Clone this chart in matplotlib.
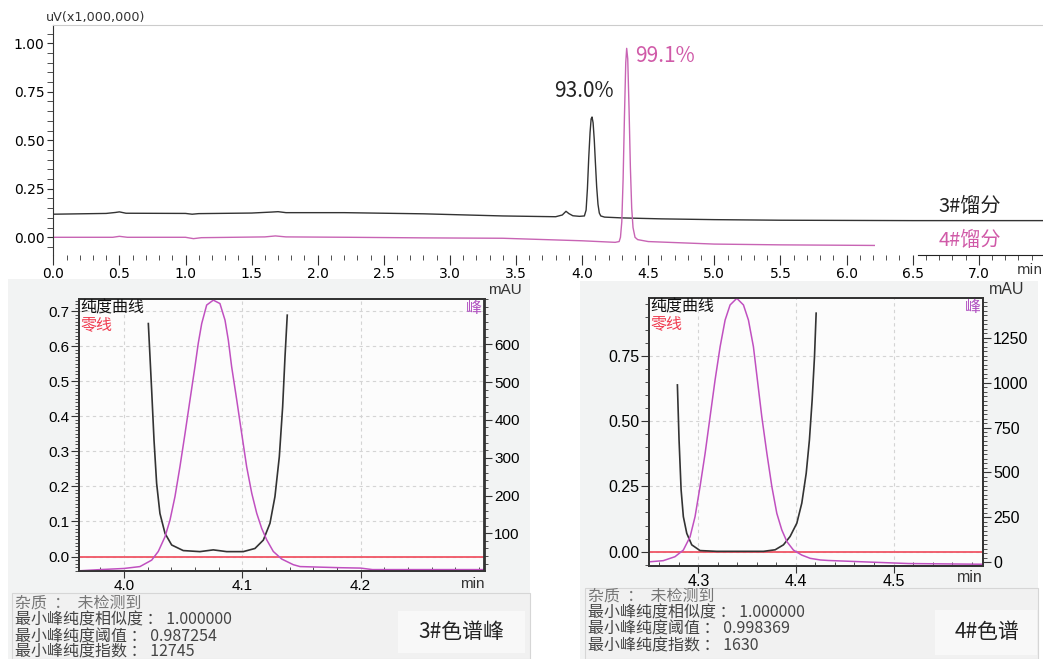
import matplotlib
matplotlib.use('Agg')
import matplotlib.pyplot as plt
from matplotlib.ticker import MultipleLocator, FixedLocator, FormatStrFormatter
from matplotlib.patches import Rectangle

plt.rcParams['font.family'] = ['DejaVu Sans', 'Noto Sans CJK SC']
CJK = ['Noto Sans CJK SC', 'DejaVu Sans']
ARIAL = ['Liberation Sans', 'Noto Sans CJK SC']

# ---- top chromatogram (min, uV x1e6)
t3 = [0.00, 0.40, 0.47, 0.50, 0.55, 1.00, 1.05, 1.10, 1.50, 1.65, 1.70, 1.76, 2.20, 2.80,
      3.40, 3.70, 3.80, 3.85, 3.878, 3.90, 3.93, 3.98, 4.017, 4.03, 4.04, 4.05, 4.06, 4.068,
      4.075, 4.083, 4.092, 4.10, 4.11, 4.12, 4.13, 4.141, 4.17, 4.30, 4.60, 5.00, 5.50, 6.50, 7.49]
y3 = [0.119, 0.123, 0.128, 0.131, 0.124, 0.123, 0.119, 0.122, 0.125, 0.130, 0.132, 0.127, 0.127, 0.121,
      0.110, 0.107, 0.106, 0.115, 0.134, 0.122, 0.111, 0.108, 0.110, 0.14, 0.25, 0.41, 0.54, 0.61,
      0.62, 0.59, 0.50, 0.39, 0.26, 0.17, 0.125, 0.110, 0.104, 0.100, 0.095, 0.091, 0.088, 0.086, 0.086]

t4 = [0.00, 0.45, 0.50, 0.56, 1.00, 1.06, 1.12, 1.60, 1.68, 1.76, 2.24, 2.80, 3.40, 4.00, 4.25,
      4.28, 4.29, 4.30, 4.31, 4.32, 4.33, 4.337, 4.345, 4.355, 4.365, 4.375, 4.385, 4.40, 4.42,
      4.50, 5.00, 5.50, 6.21]
y4 = [0.000, 0.000, 0.005, 0.000, 0.000, -0.007, -0.002, 0.002, 0.007, 0.002, 0.000, -0.003, -0.005, -0.018, -0.026,
      -0.022, 0.0, 0.08, 0.30, 0.62, 0.90, 0.974, 0.92, 0.66, 0.36, 0.15, 0.05, 0.0, -0.012,
      -0.022, -0.035, -0.039, -0.042]

# ---- peak purity, fraction 3 (purity curve, left axis; peak in mAU, right axis)
p3_t = [4.0206, 4.0234, 4.0254, 4.0276, 4.0304, 4.0347, 4.0403, 4.0501, 4.0642, 4.0755,
        4.0868, 4.1008, 4.1107, 4.1178, 4.1234, 4.1276, 4.1313, 4.1341, 4.1361, 4.1380]
p3_v = [0.665, 0.475, 0.332, 0.209, 0.123, 0.066, 0.033, 0.017, 0.014, 0.019,
        0.014, 0.014, 0.023, 0.047, 0.095, 0.171, 0.285, 0.427, 0.570, 0.689]
s3_t = [3.963, 3.98, 4.000, 4.0135, 4.0234, 4.029, 4.0347, 4.0389, 4.0431, 4.0473, 4.0516,
        4.0558, 4.0600, 4.0628, 4.0657, 4.0699, 4.0755, 4.0811, 4.0854, 4.0882, 4.0910,
        4.0953, 4.0995, 4.1037, 4.1080, 4.1122, 4.1164, 4.1206, 4.1262, 4.1333, 4.1431,
        4.1488, 4.183, 4.20, 4.21, 4.3047]
s3_mau = [1, 4, 7, 12, 29, 52, 91, 135, 197, 276, 364,
          453, 541, 603, 655, 704, 717, 708, 664, 611, 541,
          453, 364, 276, 206, 153, 113, 83, 52, 32, 17,
          12, 9, 8, 4, 4]

# ---- peak purity, fraction 4
p4_t = [4.2785, 4.2802, 4.2823, 4.2846, 4.2881, 4.2932, 4.3017, 4.3188, 4.3667, 4.3787,
        4.3872, 4.3940, 4.4009, 4.4060, 4.4105, 4.4138, 4.4166, 4.4190, 4.4207]
p4_v = [0.639, 0.428, 0.237, 0.134, 0.070, 0.026, 0.004, 0.001, 0.001, 0.007,
        0.026, 0.058, 0.109, 0.186, 0.300, 0.428, 0.581, 0.747, 0.914]
s4_t = [4.2505, 4.264, 4.276, 4.2846, 4.2915, 4.2966, 4.3017, 4.3069, 4.3120, 4.3171, 4.3223,
        4.3274, 4.3325, 4.3394, 4.3462, 4.3513, 4.3564, 4.3605, 4.3650, 4.3702, 4.3753,
        4.3804, 4.3855, 4.3907, 4.3974, 4.4060, 4.4146, 4.4248, 4.4333, 4.4812, 4.5154, 4.592]
s4_mau = [3, 9, 31, 68, 142, 254, 421, 606, 810, 1014, 1200,
          1348, 1432, 1469, 1432, 1348, 1200, 1014, 810, 606, 421,
          272, 180, 115, 68, 40, 22, 13, 10, 0, -7, -11]

info3 = ['杂质  ：  未检测到', '最小峰纯度相似度 ： 1.000000', '最小峰纯度阈值 ： 0.987254', '最小峰纯度指数 ： 12745']
info4 = ['杂质  ：  未检测到', '最小峰纯度相似度 ： 1.000000', '最小峰纯度阈值 ： 0.998369', '最小峰纯度指数 ： 1630']

W, H = 1043, 659


def box(l, t, r, b):
    return [l / W, 1 - b / H, (r - l) / W, (b - t) / H]


def fx(x):
    return x / W


def fy(y):
    return 1 - y / H


fig = plt.figure(figsize=(W / 100, H / 100), dpi=100)
fig.patch.set_facecolor('white')


def rect(l, t, r, b, color, edge='none'):
    fig.add_artist(Rectangle((l / W, 1 - b / H), (r - l) / W, (b - t) / H, transform=fig.transFigure,
                             facecolor=color, edgecolor=edge, lw=0.8, zorder=-10))


rect(8, 279, 530, 659, '#f2f3f3')
rect(580, 281, 1038, 659, '#f2f3f3')
rect(12, 593, 530, 659, '#f1f1f1', '#d6d6d6')
rect(585, 588, 1038, 659, '#f1f1f1', '#d6d6d6')
rect(398, 611, 525, 653, '#f8f8f8')
rect(935, 610, 1037, 655, '#f8f8f8')

# ================= top chart
ax = fig.add_axes(box(53.3, 25, 1043, 254.5))
ax.set_facecolor('white')
ax.plot(t3, y3, color='#333333', lw=1.0)
ax.plot(t4, y4, color='#c864b4', lw=1.0)
ax.set_xlim(0, 7.486)
ax.set_ylim(-0.0887, 1.0943)
ax.spines['right'].set_visible(False)
ax.spines['top'].set_color('#cccccc')
ax.spines['left'].set_color('#333333')
ax.spines['bottom'].set_bounds(6.54, 7.486)
ax.spines['bottom'].set_color('#222222')
ax.xaxis.set_major_locator(MultipleLocator(0.5))
ax.xaxis.set_minor_locator(MultipleLocator(0.1))
ax.xaxis.set_major_formatter(FormatStrFormatter('%.1f'))
ax.yaxis.set_major_locator(MultipleLocator(0.25))
ax.yaxis.set_minor_locator(MultipleLocator(0.05))
ax.yaxis.set_major_formatter(FormatStrFormatter('%.2f'))
ax.tick_params(axis='x', which='major', length=7, color='#333333', labelsize=10, pad=2)
ax.tick_params(axis='x', which='minor', length=3.5, color='#333333')
ax.tick_params(axis='y', which='both', length=4.5, color='#333333', labelsize=10, pad=2)
ax.text(4.01, 0.755, '93.0%', ha='center', va='center', fontsize=15, color='#222222', family=CJK)
ax.text(4.63, 0.935, '99.1%', ha='center', va='center', fontsize=15, color='#d05aa8', family=CJK)
ax.text(6.93, 0.158, '3#馏分', ha='center', va='center', fontsize=14.5, color='#222222', family=CJK)
ax.text(6.93, -0.018, '4#馏分', ha='center', va='center', fontsize=14.5, color='#d05aa8', family=CJK)
fig.text(fx(46), fy(18), 'uV(x1,000,000)', ha='left', va='center', fontsize=9.2, color='#333333')
fig.text(fx(1030), fy(270), 'min', ha='center', va='center', fontsize=10, color='#333333')


# ================= purity panels
def purity_panel(rect_px, xlim, xticks, ylim, ylim_r, pt, pv, st, smau, ymaj, ymin, yfmt,
                 rticks, rminor, fs, min_px, mau_px):
    a = fig.add_axes(box(*rect_px))
    a.set_facecolor('#fcfcfc')
    a.set_xlim(*xlim)
    a.set_ylim(*ylim)
    a.grid(True, which='major', ls=(0, (3, 3)), color='#d4d4d4', lw=0.8)
    a.set_axisbelow(True)
    a.axhline(0, color='#f05565', lw=1.3, zorder=2)
    a.plot(pt, pv, color='#333333', lw=1.2, zorder=3)
    for s in a.spines.values():
        s.set_color('#333333')
        s.set_linewidth(1.3)
    a.xaxis.set_major_locator(FixedLocator(xticks))
    a.xaxis.set_minor_locator(MultipleLocator(0.02))
    a.xaxis.set_major_formatter(FormatStrFormatter('%.1f'))
    a.yaxis.set_major_locator(MultipleLocator(ymaj))
    a.yaxis.set_minor_locator(MultipleLocator(ymin))
    a.yaxis.set_major_formatter(FormatStrFormatter(yfmt))
    a.tick_params(axis='x', which='major', length=5, color='#333333', labelsize=fs, pad=1)
    a.tick_params(axis='x', which='minor', length=3, direction='in', color='#333333')
    a.tick_params(axis='y', which='major', length=6, color='#333333', labelsize=fs, pad=1)
    a.tick_params(axis='y', which='minor', length=3, color='#333333')
    for lab in a.get_xticklabels() + a.get_yticklabels():
        lab.set_family(ARIAL)

    r = a.twinx()
    r.set_ylim(*ylim_r)
    r.plot(st, smau, color='#c050c0', lw=1.1)
    r.yaxis.set_major_locator(FixedLocator(rticks))
    r.yaxis.set_minor_locator(MultipleLocator(rminor))
    r.tick_params(axis='y', which='major', length=6, color='#333333', labelsize=fs, pad=1)
    r.tick_params(axis='y', which='minor', length=3, color='#333333')
    for s in r.spines.values():
        s.set_color('#333333')
        s.set_linewidth(1.3)
    for lab in r.get_yticklabels():
        lab.set_family(ARIAL)

    r.text(0.004, 0.998, '纯度曲线', transform=a.transAxes, ha='left', va='top', fontsize=11.5,
           color='#111111', family=CJK)
    r.text(0.004, 0.937, '零线', transform=a.transAxes, ha='left', va='top', fontsize=11.5,
           color='#f03c50', family=CJK)
    r.text(0.993, 0.998, '峰', transform=a.transAxes, ha='right', va='top', fontsize=11.5,
           color='#b050c0', family=CJK)
    fig.text(fx(min_px[0]), fy(min_px[1]), 'min', ha='center', va='center', fontsize=fs,
             color='#333333', family=ARIAL)
    fig.text(fx(mau_px[0]), fy(mau_px[1]), 'mAU', ha='center', va='center', fontsize=fs,
             color='#333333', family=ARIAL)
    return a


purity_panel((79, 299, 484.5, 571), (3.962, 4.3047), [4.0, 4.1, 4.2], (-0.0413, 0.7351), (0.3, 720),
             p3_t, p3_v, s3_t, s3_mau, 0.1, 0.01, '%.1f', [100, 200, 300, 400, 500, 600], 20,
             11, (472, 584), (505, 290))
purity_panel((649, 298.3, 983.3, 565.7), (4.2494, 4.592), [4.3, 4.4, 4.5], (-0.054, 0.971), (-19, 1469),
             p4_t, p4_v, s4_t, s4_mau, 0.25, 0.05, '%.2f', [0, 250, 500, 750, 1000, 1250], 25,
             11.5, (970, 578), (1007, 290))

# info boxes
for i, line in enumerate(info3):
    fig.text(fx(15), fy([603, 620, 636.5, 652][i]), line, ha='left', va='center', fontsize=11.5,
             color='#777777' if i == 0 else '#444444', family=CJK)
for i, line in enumerate(info4):
    fig.text(fx(588), fy([596.5, 613, 629, 646][i]), line, ha='left', va='center', fontsize=11.5,
             color='#777777' if i == 0 else '#444444', family=CJK)

fig.text(fx(461), fy(632), '3#色谱峰', ha='center', va='center', fontsize=15, color='#222222', family=CJK)
fig.text(fx(987), fy(632), '4#色谱', ha='center', va='center', fontsize=15, color='#222222', family=CJK)

fig.savefig('out.png', dpi=100)
